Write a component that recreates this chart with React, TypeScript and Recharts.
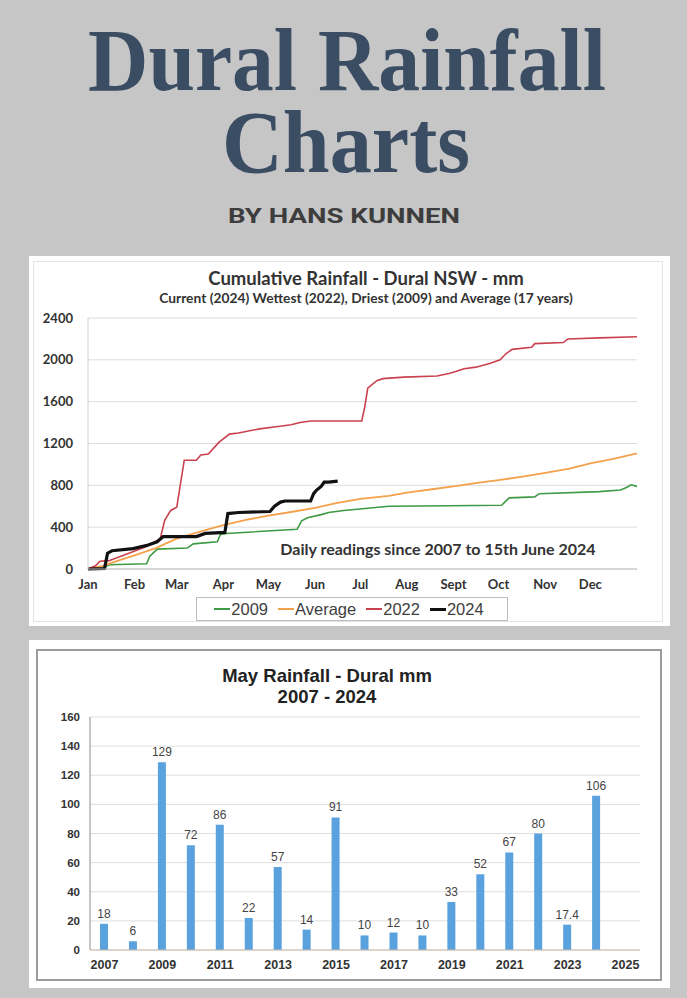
import { LineChart, Line, XAxis, YAxis, CartesianGrid, BarChart, Bar, LabelList } from "recharts"

// cumulative chart: x is day of year
const monthTicks = [0, 31, 59, 90, 120, 151, 181, 212, 243, 273, 304, 334]
const monthLabels = ["Jan", "Feb", "Mar", "Apr", "May", "Jun", "Jul", "Aug", "Sept", "Oct", "Nov", "Dec"]
const rainTicks = [0, 400, 800, 1200, 1600, 2000, 2400]

const days2009 = [0, 10, 14, 39, 41, 46, 66, 70, 86, 88, 92, 139, 142, 146, 155, 160, 170, 200, 240, 275, 280, 297, 300, 340, 354, 358, 361, 365]
const rain2009 = [0, 10, 40, 50, 120, 190, 200, 240, 260, 330, 340, 380, 460, 490, 520, 540, 560, 600, 605, 610, 680, 690, 720, 740, 755, 780, 805, 790]

const daysAvg = [0, 10, 20, 31, 45, 59, 75, 90, 105, 120, 135, 151, 165, 181, 200, 212, 230, 243, 260, 273, 290, 304, 320, 334, 350, 365]
const rainAvg = [0, 30, 80, 130, 200, 290, 360, 420, 470, 510, 545, 585, 630, 670, 700, 730, 765, 790, 825, 850, 885, 920, 960, 1010, 1055, 1105]

const days2022 = [0, 5, 8, 14, 39, 48, 51, 55, 59, 64, 72, 75, 80, 87, 94, 100, 114, 125, 135, 141, 148, 182, 184, 186, 192, 196, 210, 232, 240, 245, 250, 258, 267, 274, 278, 282, 295, 297, 316, 319, 340, 365]
const rain2022 = [0, 30, 75, 80, 215, 290, 465, 560, 590, 1040, 1040, 1090, 1100, 1210, 1290, 1300, 1340, 1360, 1380, 1400, 1415, 1415, 1550, 1730, 1800, 1820, 1835, 1845, 1870, 1890, 1915, 1930, 1965, 2000, 2060, 2100, 2120, 2155, 2165, 2200, 2210, 2220]

const days2024 = [0, 11, 13, 16, 30, 40, 46, 50, 72, 78, 91, 93, 100, 121, 124, 128, 131, 148, 150, 152, 155, 157, 160, 166]
const rain2024 = [0, 5, 150, 175, 195, 230, 260, 310, 310, 340, 350, 530, 540, 550, 600, 640, 650, 650, 720, 755, 790, 830, 830, 840]

const lineSeries = [
  { name: "2009", days: days2009, rain: rain2009, color: "#3e9a44", width: 1.6 },
  { name: "Average", days: daysAvg, rain: rainAvg, color: "#f4a14c", width: 1.8 },
  { name: "2022", days: days2022, rain: rain2022, color: "#c9414d", width: 1.6 },
  { name: "2024", days: days2024, rain: rain2024, color: "#111111", width: 3.2 },
]

// May totals
const mayYears = [2007, 2008, 2009, 2010, 2011, 2012, 2013, 2014, 2015, 2016, 2017, 2018, 2019, 2020, 2021, 2022, 2023, 2024]
const mayRain = [18, 6, 129, 72, 86, 22, 57, 14, 91, 10, 12, 10, 33, 52, 67, 80, 17.4, 106]
const yearTicks = [2007, 2009, 2011, 2013, 2015, 2017, 2019, 2021, 2023, 2025]
const mayTicks = [0, 20, 40, 60, 80, 100, 120, 140, 160]

const chartFont = "Lato, 'Open Sans', sans-serif"
const barFont = "'Liberation Sans', Arial, sans-serif"
const titleFont = "'Liberation Serif', 'DejaVu Serif', serif"

function CumulativeChart() {
  return (
    <div style={{ position: "absolute", left: 29, top: 256, width: 641, height: 370, background: "#fff" }}>
      <div style={{ position: "absolute", left: 4, top: 5, width: 628, height: 359, border: "1px solid #e4e4e4" }} />
      <div style={{ position: "absolute", left: 0, width: 674, top: 11, lineHeight: "22px", textAlign: "center", fontFamily: chartFont, fontWeight: 700, fontSize: 18.5, color: "#333" }}>
        Cumulative Rainfall - Dural NSW - mm
      </div>
      <div style={{ position: "absolute", left: 0, width: 674, top: 33, lineHeight: "18px", textAlign: "center", fontFamily: chartFont, fontWeight: 700, fontSize: 13.8, color: "#333" }}>
        Current (2024) Wettest (2022), Driest (2009) and Average (17 years)
      </div>
      <LineChart width={641} height={370} margin={{ top: 62, right: 33, bottom: 27, left: 0 }}>
        <CartesianGrid vertical={false} stroke="#dcdcdc" />
        <XAxis
          dataKey="day"
          type="number"
          domain={[0, 365]}
          ticks={monthTicks}
          tickFormatter={(d) => monthLabels[monthTicks.indexOf(d)]}
          interval={0}
          allowDuplicatedCategory={false}
          stroke="#bfbfbf"
          tickLine={false}
          tickSize={0}
          tickMargin={11}
          height={30}
          tick={{ fontSize: 13, fontFamily: chartFont, fontWeight: 700, fill: "#333" }}
        />
        <YAxis
          type="number"
          domain={[0, 2400]}
          ticks={rainTicks}
          interval={0}
          width={59}
          stroke="#d0d0d0"
          tickLine={false}
          tickSize={0}
          tickMargin={15}
          tick={{ fontSize: 13, fontFamily: chartFont, fontWeight: 700, fill: "#333" }}
        />
        {lineSeries.map((s) => (
          <Line
            key={s.name}
            data={s.days.map((d, i) => ({ day: d, rain: s.rain[i] }))}
            dataKey="rain"
            name={s.name}
            type="linear"
            stroke={s.color}
            strokeWidth={s.width}
            dot={false}
            isAnimationActive={false}
          />
        ))}
      </LineChart>
      <div style={{ position: "absolute", left: 230, width: 358, top: 283, lineHeight: "20px", textAlign: "center", fontFamily: chartFont, fontWeight: 700, fontSize: 16, color: "#333" }}>
        Daily readings since 2007 to 15th June 2024
      </div>
      <div style={{ position: "absolute", left: 167, top: 341, width: 310, height: 22, border: "1px solid #bdbdbd", background: "#fff", display: "flex", alignItems: "center", justifyContent: "center", gap: 4, fontFamily: barFont, fontSize: 16.5, color: "#404040" }}>
        {lineSeries.map((s) => (
          <span key={s.name} style={{ display: "flex", alignItems: "center", marginRight: 6 }}>
            <span style={{ display: "inline-block", width: 16, height: s.width > 2 ? 3 : 2, background: s.color, marginRight: 1 }} />
            {s.name}
          </span>
        ))}
      </div>
    </div>
  )
}

function MayChart() {
  const data = mayYears.map((y, i) => ({ year: y, rain: mayRain[i] }))
  return (
    <div style={{ position: "absolute", left: 29, top: 640, width: 641, height: 348, background: "#fff" }}>
      <div style={{ position: "absolute", left: 7, top: 9, width: 622, height: 328, border: "2px solid #9c9c9c" }} />
      <div style={{ position: "absolute", left: 0, width: 596, top: 25, textAlign: "center", fontFamily: barFont, fontWeight: 700, fontSize: 18.5, lineHeight: "21px", color: "#222" }}>
        May Rainfall - Dural mm
        <br />
        2007 - 2024
      </div>
      <BarChart width={641} height={348} data={data} margin={{ top: 77, right: 30, bottom: 14, left: 0 }}>
        <CartesianGrid vertical={false} stroke="#dedede" />
        <XAxis
          dataKey="year"
          type="number"
          domain={[2006.5, 2025.5]}
          ticks={yearTicks}
          interval={0}
          stroke="#cdb9a6"
          tickLine={false}
          tickSize={0}
          tickMargin={10}
          height={24}
          tick={{ fontSize: 12.5, fontFamily: barFont, fontWeight: 700, fill: "#333" }}
        />
        <YAxis
          type="number"
          domain={[0, 160]}
          ticks={mayTicks}
          interval={0}
          width={61}
          stroke="#8c8c8c"
          tickLine={false}
          tickSize={0}
          tickMargin={10}
          tick={{ fontSize: 11.5, fontFamily: barFont, fontWeight: 700, fill: "#333" }}
        />
        <Bar dataKey="rain" fill="#5aa2dd" barSize={8} isAnimationActive={false}>
          <LabelList dataKey="rain" position="top" offset={6} style={{ fontSize: 12, fontFamily: barFont, fill: "#444" }} />
        </Bar>
      </BarChart>
    </div>
  )
}

export default function App() {
  return (
    <div style={{ position: "absolute", left: 0, top: 0, width: 687, height: 998, background: "#c6c6c6", overflow: "hidden" }}>
      <svg width={687} height={240} style={{ position: "absolute", left: 0, top: 0 }}>
        <text x={347} y={90} textAnchor="middle" fontFamily={titleFont} fontWeight={700} fontSize={88} fill="#3b4d63" textLength={518} lengthAdjust="spacingAndGlyphs">
          Dural Rainfall
        </text>
        <text x={346} y={172} textAnchor="middle" fontFamily={titleFont} fontWeight={700} fontSize={88} fill="#3b4d63" textLength={248} lengthAdjust="spacingAndGlyphs">
          Charts
        </text>
        <text x={344} y={223} textAnchor="middle" fontFamily="Roboto, sans-serif" fontWeight={700} fontSize={20} fill="#3d3d3d" textLength={232} lengthAdjust="spacingAndGlyphs">
          BY HANS KUNNEN
        </text>
      </svg>
      <CumulativeChart />
      <MayChart />
    </div>
  )
}
